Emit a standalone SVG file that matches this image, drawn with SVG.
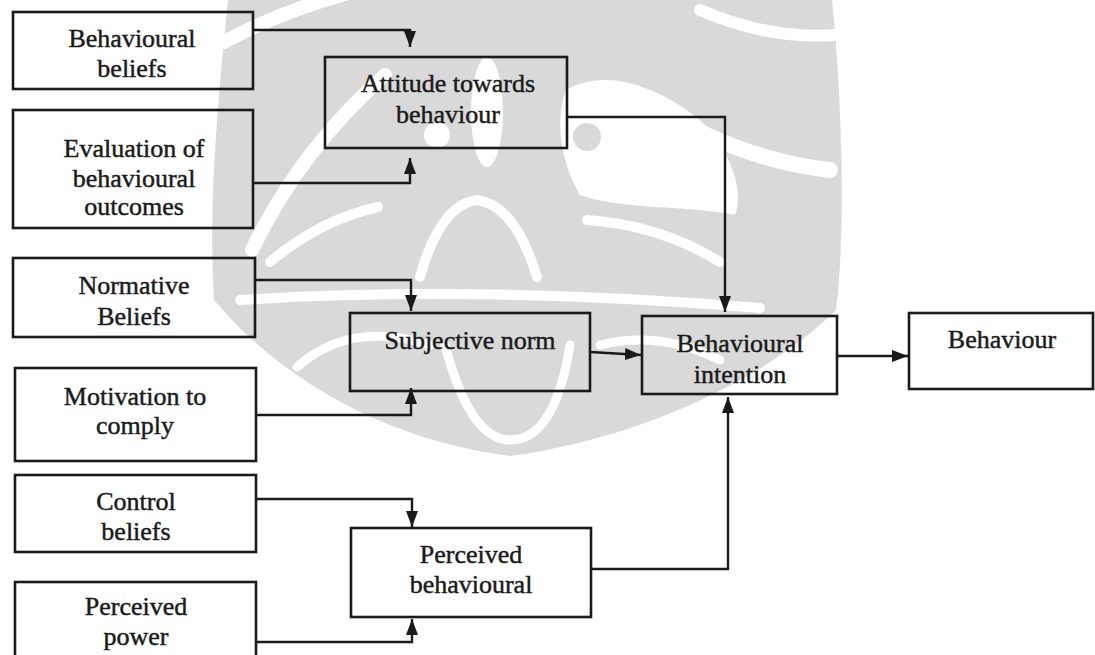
<svg xmlns="http://www.w3.org/2000/svg" width="1095" height="655" viewBox="0 0 1095 655">
<style>
.box{fill:none;stroke:#1a1a1a;stroke-width:2.6}
.t{font-family:"Liberation Serif","Times New Roman",serif;font-size:26px;fill:#1a1a1a;stroke:#1a1a1a;stroke-width:0.45;text-anchor:middle}
.c{fill:none;stroke:#1a1a1a;stroke-width:2.4}
.wm{fill:#d9d9d9}
.wc{fill:none;stroke:#ffffff;stroke-linecap:round}
</style>
<defs>
<marker id="ah" markerWidth="16" markerHeight="12" refX="16" refY="6" orient="auto" markerUnits="userSpaceOnUse">
<path d="M0,0 L16,6 L0,12 Z" fill="#1a1a1a"/>
</marker>
</defs>
<rect width="1095" height="655" fill="#ffffff"/>
<g id="watermark">
<path class="wm" d="M228 0 L832 0 C842 100 846 230 836 310 C760 385 630 440 510 456 C395 442 285 385 214 300 C208 200 218 100 228 0 Z"/>
<path class="wc" stroke-width="14" d="M224 42 Q280 12 345 -6"/>
<path class="wc" stroke-width="14" d="M252 250 Q300 150 385 75"/>
<ellipse cx="487" cy="112" rx="16" ry="55" fill="#fff"/>
<circle cx="437" cy="135" r="13" fill="#fff"/>
<path fill="#fff" d="M566 90 C600 70 650 80 700 120 C730 150 745 190 735 215 C690 205 620 210 580 195 C560 160 555 120 566 90 Z"/>
<circle class="wm" cx="587" cy="137" r="14"/>
<path class="wm" d="M603 75 C600 45 630 35 648 50 C660 62 650 78 635 72 C625 68 612 80 603 75 Z"/>
<path class="wc" stroke-width="16" d="M650 105 Q740 160 830 170"/>
<path class="wc" stroke-width="12" d="M700 10 Q770 40 835 35"/>
<path class="wc" stroke-width="10" d="M270 262 Q320 220 378 207"/>
<path class="wc" stroke-width="10" d="M420 277 Q440 205 477 200 Q515 205 537 277"/>
<path class="wc" stroke-width="10" d="M587 220 Q660 225 720 262"/>
<path class="wc" stroke-width="10" d="M240 300 Q480 285 760 308"/>
<path class="wc" stroke-width="9" d="M297 367 Q350 320 430 345"/>
<path class="wc" stroke-width="9" d="M445 345 Q470 440 510 440 Q555 440 570 345"/>
<path class="wc" stroke-width="9" d="M600 345 Q660 330 720 360"/>
</g>
<g id="connectors">
<path class="c" d="M253 30 H410 V47" marker-end="url(#ah)"/>
<path class="c" d="M253 183 H410 V158" marker-end="url(#ah)"/>
<path class="c" d="M567 117 H725 V312" marker-end="url(#ah)"/>
<path class="c" d="M255 280 H411 V311" marker-end="url(#ah)"/>
<path class="c" d="M256 415 H411 V388" marker-end="url(#ah)"/>
<path class="c" d="M590 352 L641 355" marker-end="url(#ah)"/>
<path class="c" d="M256 499 H412 V527" marker-end="url(#ah)"/>
<path class="c" d="M256 642 H412 V619" marker-end="url(#ah)"/>
<path class="c" d="M591 569 H728 V397" marker-end="url(#ah)"/>
<path class="c" d="M837 356 H908" marker-end="url(#ah)"/>
</g>
<g id="behavioural-beliefs"><rect class="box" x="13" y="12" width="240" height="77"/><text class="t" x="132" y="47">Behavioural</text><text class="t" x="132" y="77">beliefs</text></g>
<g id="evaluation"><rect class="box" x="13" y="110" width="240" height="118"/><text class="t" x="134" y="157">Evaluation of</text><text class="t" x="134" y="187">behavioural</text><text class="t" x="134" y="215">outcomes</text></g>
<g id="normative-beliefs"><rect class="box" x="13" y="258" width="242" height="79"/><text class="t" x="134" y="294">Normative</text><text class="t" x="134" y="325">Beliefs</text></g>
<g id="motivation"><rect class="box" x="15" y="368" width="241" height="93"/><text class="t" x="135" y="405">Motivation to</text><text class="t" x="135" y="434">comply</text></g>
<g id="control-beliefs"><rect class="box" x="15" y="475" width="241" height="77"/><text class="t" x="136" y="510">Control</text><text class="t" x="136" y="540">beliefs</text></g>
<g id="perceived-power"><rect class="box" x="15" y="582" width="241" height="100"/><text class="t" x="136" y="615">Perceived</text><text class="t" x="136" y="645">power</text></g>
<g id="attitude"><rect class="box" x="325" y="57" width="242" height="91"/><text class="t" x="448" y="92">Attitude towards</text><text class="t" x="448" y="123">behaviour</text></g>
<g id="subjective-norm"><rect class="box" x="350" y="313" width="240" height="78"/><text class="t" x="470" y="349">Subjective norm</text></g>
<g id="perceived-behavioural"><rect class="box" x="351" y="528" width="240" height="89"/><text class="t" x="471" y="563">Perceived</text><text class="t" x="471" y="593">behavioural</text></g>
<g id="behavioural-intention"><rect class="box" x="642" y="316" width="195" height="78"/><text class="t" x="740" y="352">Behavioural</text><text class="t" x="740" y="383">intention</text></g>
<g id="behaviour"><rect class="box" x="909" y="313" width="184" height="76"/><text class="t" x="1002" y="348">Behaviour</text></g>
</svg>
